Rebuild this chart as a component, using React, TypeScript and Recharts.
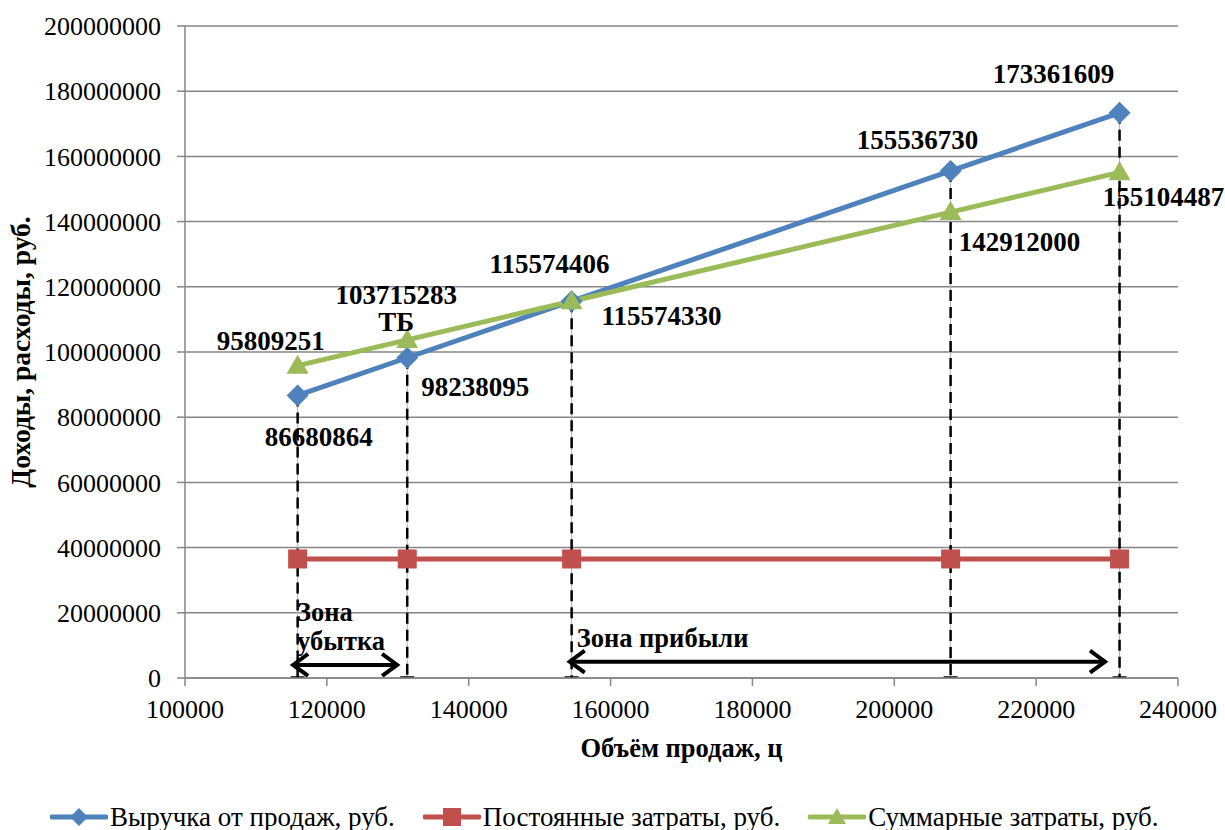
import React from 'react';
import { LineChart, Line, XAxis, YAxis, CartesianGrid, ReferenceLine, LabelList, Label } from 'recharts';

const volumes = [115880, 131330, 154510, 207940, 231760];
const revenue = [86680864, 98238095, 115574406, 155536730, 173361609];
const fixedCosts = [36514600, 36514600, 36514600, 36514600, 36514600];
const totalCosts = [95809251, 103715283, 115574330, 142912000, 155104487];

const xTicks = [100000, 120000, 140000, 160000, 180000, 200000, 220000, 240000];
const yTicks = [0, 20000000, 40000000, 60000000, 80000000, 100000000, 120000000, 140000000, 160000000, 180000000, 200000000];

const lossZone = [115100, 130050];
const profitZone = [154100, 229850];
const lossArrowY = 4000000;
const profitArrowY = 5000000;

const seriesNames = ['Выручка от продаж, руб.', 'Постоянные затраты, руб.', 'Суммарные затраты, руб.'];
const bepText = 'ТБ';

const data = volumes.map((v, i) => ({
    volume: v,
    revenue: revenue[i],
    fixed: fixedCosts[i],
    total: totalCosts[i],
}));

const BLUE = '#4F81BD';
const RED = '#C0504D';
const GREEN = '#9BBB59';
const GRID = '#868686';
const FONT = "'Liberation Serif', 'Times New Roman', serif";

// label offsets (px) from each point
const revOffsets = [[21, 42], [68, 29], [-22, -37], [-33, -31], [-66, -39]];
const totOffsets = [[-27, -25], [-11, -45], [90, 15], [69, 30], [44, 25]];

const Diamond = (props: any) => {
    const { cx, cy } = props;
    if (cx == null || cy == null) return null;
    return <polygon points={`${cx},${cy - 11} ${cx + 11},${cy} ${cx},${cy + 11} ${cx - 11},${cy}`} fill={BLUE} />;
};
const Square = (props: any) => {
    const { cx, cy } = props;
    if (cx == null || cy == null) return null;
    return <rect x={cx - 9.5} y={cy - 9.5} width={19} height={19} fill={RED} />;
};
const Triangle = (props: any) => {
    const { cx, cy } = props;
    if (cx == null || cy == null) return null;
    return <polygon points={`${cx},${cy - 11} ${cx + 11},${cy + 8} ${cx - 11},${cy + 8}`} fill={GREEN} />;
};

const makeLabel = (offsets: number[][], extra?: { index: number; text: string; dy: number }) => (props: any) => {
    const { x, y, value, index } = props;
    if (x == null || y == null) return null;
    const [dx, dy] = offsets[index];
    return (
        <g>
            <text x={x + dx} y={y + dy} textAnchor="middle" dominantBaseline="central"
                style={{ fontFamily: FONT, fontSize: 27, fontWeight: 'bold', fill: '#000' }}>
                {value}
            </text>
            {extra && extra.index === index && (
                <text x={x + dx} y={y + extra.dy} textAnchor="middle" dominantBaseline="central"
                    style={{ fontFamily: FONT, fontSize: 27, fontWeight: 'bold', fill: '#000' }}>
                    {extra.text}
                </text>
            )}
        </g>
    );
};

const DropLine = (props: any) => {
    const { x1, y1, x2, y2 } = props;
    const bottom = Math.max(y1, y2);
    const top = Math.min(y1, y2);
    return (
        <g>
            <line x1={x1} y1={top} x2={x2} y2={bottom} stroke="#b0b0b0" strokeWidth={1} />
            <line x1={x1} y1={top} x2={x2} y2={bottom} stroke="#000" strokeWidth={2.5} strokeDasharray="11 6" />
            <line x1={x1 - 7} y1={bottom - 1} x2={x1 + 7} y2={bottom - 1} stroke="#000" strokeWidth={1.5} />
        </g>
    );
};

const makeArrow = (lines: string[], textDx: number, textDys: number[]) => (props: any) => {
    const { x1, y1, x2 } = props;
    const left = Math.min(x1, x2);
    const right = Math.max(x1, x2);
    const y = y1;
    return (
        <g>
            <line x1={left + 2} y1={y} x2={right - 2} y2={y} stroke="#000" strokeWidth={4} />
            <polyline points={`${left + 16},${y - 11} ${left + 1},${y} ${left + 16},${y + 11}`} fill="none" stroke="#000" strokeWidth={4} />
            <polyline points={`${right - 16},${y - 11} ${right - 1},${y} ${right - 16},${y + 11}`} fill="none" stroke="#000" strokeWidth={4} />
            {lines.map((t, i) => (
                <text key={i} x={left + textDx} y={y + textDys[i]} dominantBaseline="central"
                    style={{ fontFamily: FONT, fontSize: 26.5, fontWeight: 'bold', fill: '#000' }}>
                    {t}
                </text>
            ))}
        </g>
    );
};

const YTitle = (props: any) => {
    const vb = props.viewBox || { x: 0, y: 26, width: 185, height: 652 };
    const cx = vb.x + 20;
    const cy = vb.y + vb.height / 2;
    return (
        <text x={cx} y={cy} transform={`rotate(-90, ${cx}, ${cy})`} textAnchor="middle" dominantBaseline="central"
            style={{ fontFamily: FONT, fontSize: 27.5, fontWeight: 'bold', fill: '#000' }}>
            Доходы, расходы, руб.
        </text>
    );
};

const XTitle = (props: any) => {
    const vb = props.viewBox || { x: 185, y: 678, width: 993, height: 152 };
    return (
        <text x={vb.x + vb.width / 2} y={vb.y + 70} textAnchor="middle" dominantBaseline="central"
            style={{ fontFamily: FONT, fontSize: 26.5, fontWeight: 'bold', fill: '#000' }}>
            Объём продаж, ц
        </text>
    );
};

const LegendIcon = ({ color, kind }: { color: string; kind: string }) => (
    <svg width={58} height={24} style={{ display: 'block' }}>
        <line x1={2} y1={12} x2={56} y2={12} stroke={color} strokeWidth={5} strokeLinecap="round" />
        {kind === 'diamond' && <polygon points="29,3 38,12 29,21 20,12" fill={color} />}
        {kind === 'square' && <rect x={20} y={3} width={18} height={18} fill={color} />}
        {kind === 'triangle' && <polygon points="29,3 38,19 20,19" fill={color} />}
    </svg>
);

export default function App() {
    const legendItems = [
        { name: seriesNames[0], color: BLUE, kind: 'diamond' },
        { name: seriesNames[1], color: RED, kind: 'square' },
        { name: seriesNames[2], color: GREEN, kind: 'triangle' },
    ];
    return (
        <div style={{ position: 'absolute', left: 0, top: 0, width: 1225, height: 830, background: '#fff', fontFamily: FONT }}>
            <LineChart width={1225} height={830} data={data} margin={{ top: 26, right: 47, left: 0, bottom: 0 }}>
                <CartesianGrid vertical={false} stroke={GRID} strokeWidth={1.5} />
                <XAxis
                    dataKey="volume"
                    type="number"
                    domain={[100000, 240000]}
                    ticks={xTicks}
                    height={152}
                    stroke={GRID}
                    strokeWidth={1.5}
                    tickSize={8}
                    tickMargin={14}
                    tick={{ fill: '#000', fontSize: 26, fontFamily: FONT }}
                    interval={0}
                >
                    <Label content={<XTitle />} />
                </XAxis>
                <YAxis
                    type="number"
                    domain={[0, 200000000]}
                    ticks={yTicks}
                    width={185}
                    stroke={GRID}
                    strokeWidth={1.5}
                    tickSize={8}
                    tickMargin={16}
                    tick={{ fill: '#000', fontSize: 26, fontFamily: FONT }}
                    interval={0}
                >
                    <Label content={<YTitle />} />
                </YAxis>
                {volumes.map((v, i) => (
                    <ReferenceLine key={`d${i}`} segment={[{ x: v, y: 0 }, { x: v, y: revenue[i] }]} shape={DropLine} />
                ))}
                <ReferenceLine
                    segment={[{ x: lossZone[0], y: lossArrowY }, { x: lossZone[1], y: lossArrowY }]}
                    shape={makeArrow(['Зона', 'убытка'], 5, [-53, -24])}
                />
                <ReferenceLine
                    segment={[{ x: profitZone[0], y: profitArrowY }, { x: profitZone[1], y: profitArrowY }]}
                    shape={makeArrow(['Зона прибыли'], 8, [-24])}
                />
                <Line type="linear" dataKey="fixed" name={seriesNames[1]} stroke={RED} strokeWidth={5}
                    dot={<Square />} activeDot={false} isAnimationActive={false} />
                <Line type="linear" dataKey="revenue" name={seriesNames[0]} stroke={BLUE} strokeWidth={5}
                    dot={<Diamond />} activeDot={false} isAnimationActive={false}>
                    <LabelList dataKey="revenue" content={makeLabel(revOffsets)} />
                </Line>
                <Line type="linear" dataKey="total" name={seriesNames[2]} stroke={GREEN} strokeWidth={5}
                    dot={<Triangle />} activeDot={false} isAnimationActive={false}>
                    <LabelList dataKey="total" content={makeLabel(totOffsets, { index: 1, text: bepText, dy: -18 })} />
                </Line>
            </LineChart>
            <div style={{ position: 'absolute', left: 50, top: 803, display: 'flex', alignItems: 'center', fontSize: 27, color: '#000', whiteSpace: 'nowrap' }}>
                {legendItems.map((it, i) => (
                    <div key={i} style={{ display: 'flex', alignItems: 'center', marginRight: 28 }}>
                        <LegendIcon color={it.color} kind={it.kind} />
                        <span style={{ marginLeft: 2, lineHeight: '28px' }}>{it.name}</span>
                    </div>
                ))}
            </div>
        </div>
    );
}
